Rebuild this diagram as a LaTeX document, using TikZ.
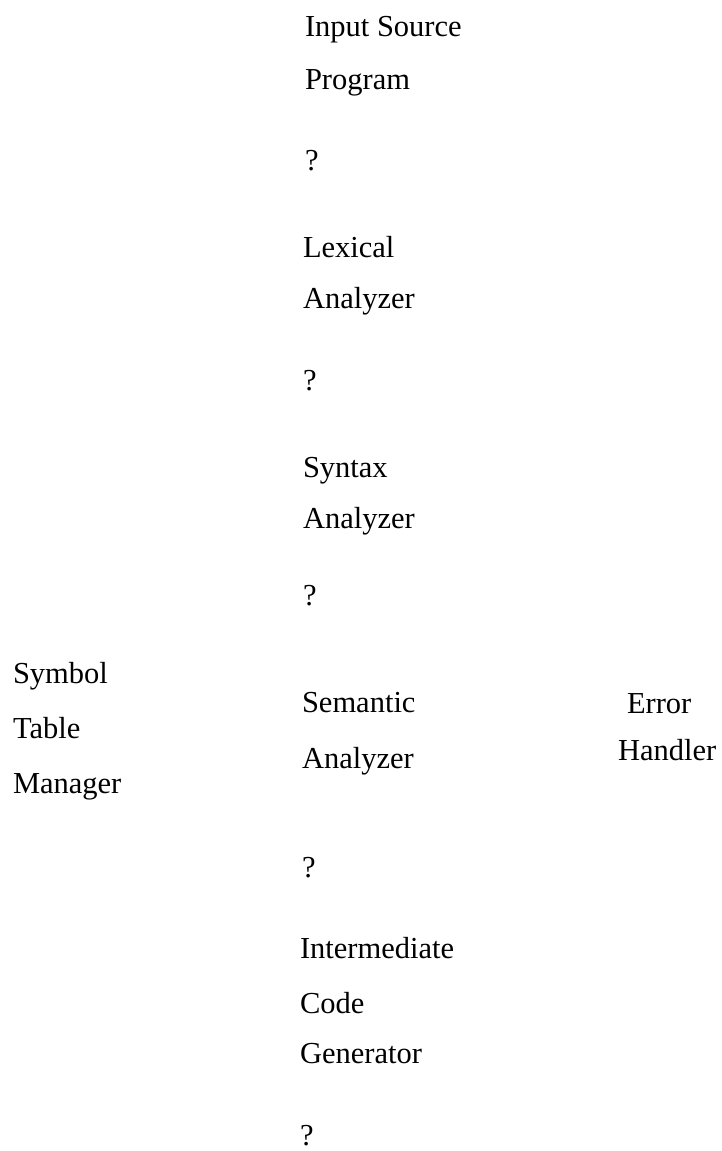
\documentclass[tikz,border=0pt]{standalone}
\usepackage{fontspec}
\setmainfont{Liberation Serif}
\begin{document}
\begin{tikzpicture}[x=1pt,y=-1pt,
  lbl/.style={anchor=base west,inner sep=0pt,outer sep=0pt,font=\fontsize{30.5}{36}\selectfont}]
\useasboundingbox[fill=white] (0,0) rectangle (721,1151);
\node[lbl] (in1) at (305,36) {Input Source};
\node[lbl] (in2) at (305,89) {Program};
\node[lbl] (q1) at (305,170) {?};
\node[lbl] (lx1) at (303,257) {Lexical};
\node[lbl] (lx2) at (303,308) {Analyzer};
\node[lbl] (q2) at (303,390) {?};
\node[lbl] (sy1) at (303,477) {Syntax};
\node[lbl] (sy2) at (303,528) {Analyzer};
\node[lbl] (q3) at (303,605) {?};
\node[lbl] (st1) at (13,683) {Symbol};
\node[lbl] (st2) at (13,738) {Table};
\node[lbl] (st3) at (13,793) {Manager};
\node[lbl] (se1) at (302,712) {Semantic};
\node[lbl] (se2) at (302,768) {Analyzer};
\node[lbl] (eh1) at (627,713) {Error};
\node[lbl] (eh2) at (618,760) {Handler};
\node[lbl] (q4) at (302,877) {?};
\node[lbl] (ic1) at (300,958) {Intermediate};
\node[lbl] (ic2) at (300,1013) {Code};
\node[lbl] (ic3) at (300,1063) {Generator};
\node[lbl] (q5) at (300,1145) {?};
\end{tikzpicture}
\end{document}
